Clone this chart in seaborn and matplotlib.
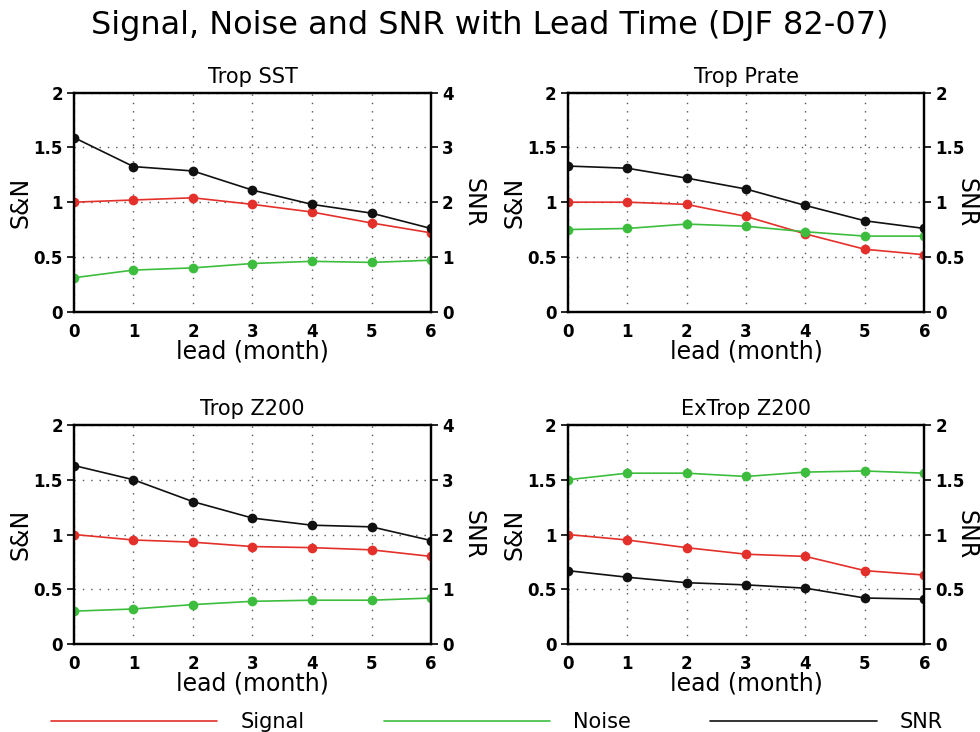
import numpy as np
import pandas as pd
import matplotlib
matplotlib.use("Agg")
import matplotlib.pyplot as plt
import seaborn as sns
from matplotlib.lines import Line2D

sns.set_style("white")
plt.rcParams['font.family'] = ['DejaVu Sans']
plt.rcParams['text.color'] = 'black'
plt.rcParams['axes.labelcolor'] = 'black'

lead = [0, 1, 2, 3, 4, 5, 6]
titles = ["Trop SST", "Trop Prate", "Trop Z200", "ExTrop Z200"]

sst_signal = [1.00, 1.02, 1.04, 0.98, 0.91, 0.81, 0.72]
sst_noise = [0.31, 0.38, 0.40, 0.44, 0.46, 0.45, 0.47]
sst_snr = [3.18, 2.65, 2.57, 2.22, 1.96, 1.80, 1.52]

prate_signal = [1.00, 1.00, 0.98, 0.87, 0.71, 0.57, 0.52]
prate_noise = [0.75, 0.76, 0.80, 0.78, 0.73, 0.69, 0.69]
prate_snr = [1.33, 1.31, 1.22, 1.12, 0.97, 0.83, 0.76]

z200_signal = [1.00, 0.95, 0.93, 0.89, 0.88, 0.86, 0.80]
z200_noise = [0.30, 0.32, 0.36, 0.39, 0.40, 0.40, 0.42]
z200_snr = [3.26, 3.00, 2.60, 2.30, 2.17, 2.14, 1.89]

ex_signal = [1.00, 0.95, 0.88, 0.82, 0.80, 0.67, 0.63]
ex_noise = [1.50, 1.56, 1.56, 1.53, 1.57, 1.58, 1.56]
ex_snr = [0.67, 0.61, 0.56, 0.54, 0.51, 0.42, 0.41]

snr_max = [4, 2, 4, 2]

panels = [
    (sst_signal, sst_noise, sst_snr),
    (prate_signal, prate_noise, prate_snr),
    (z200_signal, z200_noise, z200_snr),
    (ex_signal, ex_noise, ex_snr),
]

RED = "#e3302a"
GREEN = "#3dbd3d"
BLACK = "#111111"

fig = plt.figure(figsize=(9.8, 7.32), dpi=100)

positions = [
    (0.0755, 0.5742, 0.3643, 0.2992),
    (0.5793, 0.5742, 0.3639, 0.2992),
    (0.0755, 0.1202, 0.3643, 0.2992),
    (0.5793, 0.1202, 0.3639, 0.2992),
]

for i, (pos, (sig, noi, snr)) in enumerate(zip(positions, panels)):
    ax = fig.add_axes(pos)
    df = pd.DataFrame({
        "lead": lead * 2,
        "value": list(sig) + list(noi),
        "series": ["Signal"] * 7 + ["Noise"] * 7,
    })
    sns.lineplot(data=df, x="lead", y="value", hue="series",
                 palette={"Signal": RED, "Noise": GREEN}, marker="o",
                 markersize=7, markeredgewidth=0, linewidth=1.2,
                 legend=False, ax=ax)
    ax.set_xlim(0, 6)
    ax.set_ylim(0, 2)
    ax.set_xticks(range(7))
    ax.set_yticks([0, 0.5, 1, 1.5, 2])
    ax.set_yticklabels(["0", "0.5", "1", "1.5", "2"])
    ax.grid(True, linestyle=(0, (1, 5)), color="#555555", linewidth=1.0)
    for sp in ax.spines.values():
        sp.set_color("black")
        sp.set_linewidth(1.6)
    ax.tick_params(axis="both", direction="out", length=5, width=1.2,
                   labelsize=12, colors="black", pad=3)
    for lab in ax.get_xticklabels() + ax.get_yticklabels():
        lab.set_fontweight("bold")
    ax.set_xlabel("lead (month)", fontsize=17, labelpad=-1)
    ax.set_ylabel("S&N", fontsize=17, va="center")
    ax.yaxis.set_label_coords(-0.15, 0.5)
    ax.set_title(titles[i], fontsize=15, pad=7)

    ax2 = ax.twinx()
    df2 = pd.DataFrame({"lead": lead, "value": snr})
    sns.lineplot(data=df2, x="lead", y="value", color=BLACK, marker="o",
                 markersize=7, markeredgewidth=0, linewidth=1.2, ax=ax2)
    ax2.set_ylim(0, snr_max[i])
    if snr_max[i] == 4:
        ax2.set_yticks([0, 1, 2, 3, 4])
        ax2.set_yticklabels(["0", "1", "2", "3", "4"])
    else:
        ax2.set_yticks([0, 0.5, 1, 1.5, 2])
        ax2.set_yticklabels(["0", "0.5", "1", "1.5", "2"])
    ax2.tick_params(axis="y", direction="out", length=5, width=1.2,
                    labelsize=12, colors="black", pad=3)
    for lab in ax2.get_yticklabels():
        lab.set_fontweight("bold")
    ax2.set_ylabel("SNR", fontsize=17, rotation=270, va="center")
    ax2.yaxis.set_label_coords(1.118, 0.5)
    ax2.set_xlabel("")
    for sp in ax2.spines.values():
        sp.set_color("black")
        sp.set_linewidth(1.6)

fig.text(0.5, 0.965, "Signal, Noise and SNR with Lead Time (DJF 82-07)",
         ha="center", va="center", fontsize=23)

handles = [Line2D([], [], color=RED, linewidth=1.2),
           Line2D([], [], color=GREEN, linewidth=1.2),
           Line2D([], [], color=BLACK, linewidth=1.2)]
fig.legend(handles, ["Signal", "Noise", "SNR"], loc="center",
           bbox_to_anchor=(0.507, 0.013), ncol=3, frameon=False, fontsize=15,
           handlelength=8.0, handletextpad=1.1, columnspacing=3.8)

fig.savefig("out.png", dpi=100)
